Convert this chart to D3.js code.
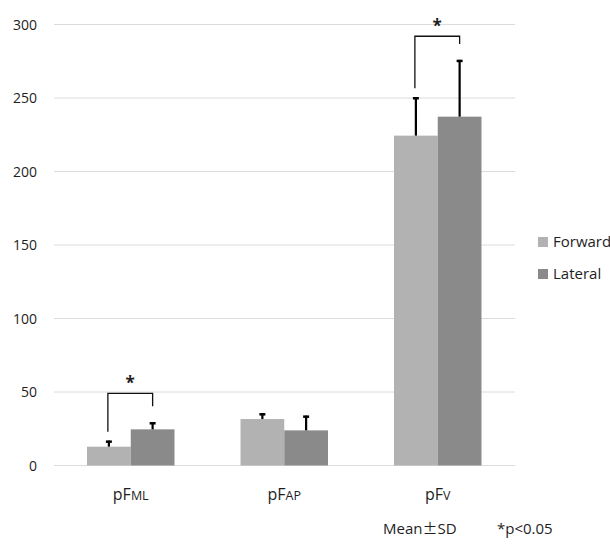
<!DOCTYPE html>
<html>
<head>
<meta charset="utf-8">
<script src="https://cdn.jsdelivr.net/npm/d3@7"></script>
<style>
  body { margin: 0; background: #fff; }
  svg text { font-family: "Open Sans", "Noto Sans", sans-serif; fill: #1e1e1e; }
</style>
</head>
<body>
<div id="chart"></div>
<script>
// values (N)
var groups = ["pFML", "pFAP", "pFV"];
var groupMain = ["pF", "pF", "pF"];
var groupSub = ["ML", "AP", "V"];
var seriesNames = ["Forward", "Lateral"];
var forwardMean = [12.8, 31.6, 224.4];
var forwardSD = [4.1, 3.9, 26.1];
var lateralMean = [24.6, 23.9, 237.3];
var lateralSD = [4.8, 10.0, 38.6];
var yTicks = [0, 50, 100, 150, 200, 250, 300];
// significant pairs: group index, y of bracket top (in data units)
var sigGroups = [0, 2];
var sigLevel = [49, 292];

var width = 610, height = 551;
var colors = ["#b2b2b2", "#8a8a8a"];

var svg = d3.select("#chart").append("svg")
    .attr("width", width).attr("height", height);

var x = d3.scaleBand().domain(groups).range([54, 514.5]).paddingInner(0.43).paddingOuter(0.215);
var xs = d3.scaleBand().domain(seriesNames).range([0, x.bandwidth()]);
var y = d3.scaleLinear().domain([0, 300]).range([465.5, 24.5]);

// gridlines
svg.append("g")
    .selectAll("line")
    .data(yTicks)
    .join("line")
    .attr("x1", 54).attr("x2", 515)
    .attr("y1", d => y(d)).attr("y2", d => y(d))
    .attr("stroke", "#dcdcdc").attr("stroke-width", 1);

// y axis labels
svg.append("g")
    .selectAll("text")
    .data(yTicks)
    .join("text")
    .attr("x", 37).attr("y", d => y(d) + 5)
    .attr("text-anchor", "end")
    .style("font-size", "14px")
    .text(d => d);

var rows = [];
groups.forEach(function (g, i) {
    rows.push({ group: g, series: "Forward", mean: forwardMean[i], sd: forwardSD[i], c: colors[0] });
    rows.push({ group: g, series: "Lateral", mean: lateralMean[i], sd: lateralSD[i], c: colors[1] });
});

svg.append("g")
    .selectAll("rect")
    .data(rows)
    .join("rect")
    .attr("x", d => x(d.group) + xs(d.series))
    .attr("width", xs.bandwidth())
    .attr("y", d => y(d.mean))
    .attr("height", d => y(0) - y(d.mean))
    .attr("fill", d => d.c);

// error bars (upper only)
var err = svg.append("g").attr("stroke", "#000");
function cx(d) { return x(d.group) + xs(d.series) + xs.bandwidth() / 2; }
err.selectAll(".stem")
    .data(rows)
    .join("line")
    .attr("x1", cx).attr("x2", cx)
    .attr("y1", d => y(d.mean)).attr("y2", d => y(d.mean + d.sd))
    .attr("stroke-width", 2.2);
err.selectAll(".cap")
    .data(rows)
    .join("line")
    .attr("x1", d => cx(d) - 3).attr("x2", d => cx(d) + 3)
    .attr("y1", d => y(d.mean + d.sd) + 1).attr("y2", d => y(d.mean + d.sd) + 1)
    .attr("stroke-width", 2.5);

// significance brackets
sigGroups.forEach(function (gi, k) {
    var g = groups[gi];
    var x1 = x(g) + xs.bandwidth() / 2 - 1;
    var x2 = x(g) + xs.bandwidth() * 1.5;
    var yTop = y(sigLevel[k]);
    var yL = y(forwardMean[gi] + forwardSD[gi]) - 9;
    var yR = y(lateralMean[gi] + lateralSD[gi]) - 16;
    svg.append("path")
        .attr("d", "M" + x1 + "," + yL + "V" + yTop + "H" + x2 + "V" + yR)
        .attr("fill", "none").attr("stroke", "#111").attr("stroke-width", 1.3);
    svg.append("text")
        .attr("x", (x1 + x2) / 2).attr("y", yTop - 4)
        .attr("text-anchor", "middle")
        .style("font-size", "17px")
        .style("font-weight", "bold")
        .text("*");
});

// x labels with small-cap subscripts
var xl = svg.append("g")
    .selectAll("text")
    .data(groups)
    .join("text")
    .attr("x", d => x(d) + x.bandwidth() / 2)
    .attr("y", 500)
    .attr("text-anchor", "middle")
    .style("font-size", "16px");
xl.append("tspan").text((d, i) => groupMain[i]);
xl.append("tspan").style("font-size", "12.5px").text((d, i) => groupSub[i]);

// legend
var leg = svg.append("g");
seriesNames.forEach(function (s, i) {
    leg.append("rect")
        .attr("x", 538).attr("y", 237 + i * 32)
        .attr("width", 10).attr("height", 10)
        .attr("fill", colors[i]);
    leg.append("text")
        .attr("x", 553).attr("y", 247 + i * 32)
        .style("font-size", "15px")
        .text(s);
});

var note = svg.append("text").attr("x", 383).attr("y", 534).style("font-size", "15px");
note.append("tspan").text("Mean");
note.append("tspan").style("font-family", "'Noto Sans CJK JP'").text("\u00b1");
note.append("tspan").text("SD");
svg.append("text").attr("x", 497).attr("y", 534).style("font-size", "15px").text("*p<0.05");
</script>
</body>
</html>
